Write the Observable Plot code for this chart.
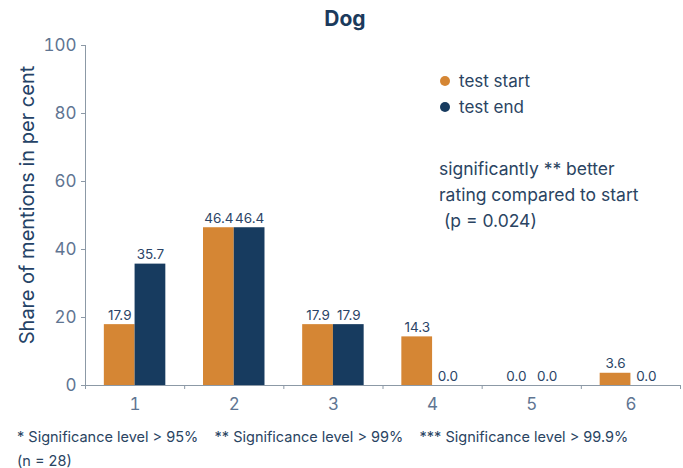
<!DOCTYPE html>
<html>
<head>
<meta charset="utf-8">
<script src="https://cdn.jsdelivr.net/npm/d3@7"></script>
<script src="https://cdn.jsdelivr.net/npm/@observablehq/plot@0.6"></script>
<style>
  html, body { margin: 0; padding: 0; background: #fff; }
  body { font-family: Inter, "Noto Sans", sans-serif; }
  #wrap { position: relative; width: 683px; height: 468px; overflow: hidden; }
  #title { position: absolute; left: 0; top: 6px; width: 690px; text-align: center; font-size: 21px; font-weight: 700; color: #1b3a5c; }
  #chart { position: absolute; left: 0; top: 36px; }
  #ylabel { position: absolute; left: 27px; top: 205px; transform: translate(-50%, -50%) rotate(-90deg); white-space: nowrap; font-size: 20px; color: #244266; }
  .leg { position: absolute; left: 440px; font-size: 17px; color: #2a4462; display: flex; align-items: center; }
  .dot { width: 10px; height: 10px; border-radius: 50%; margin-right: 9px; }
  #note { position: absolute; left: 439px; top: 156px; font-size: 17.5px; line-height: 26px; color: #2a4462; white-space: pre; }
  .foot { position: absolute; left: 17px; font-size: 14.5px; line-height: 12px; color: #2a4462; white-space: pre; }
</style>
</head>
<body>
<div id="wrap">
  <div id="title">Dog</div>
  <div id="chart"></div>
  <div id="ylabel">Share of mentions in per cent</div>
  <div id="legend"></div>
  <div id="note">significantly ** better
rating compared to start
 (p = 0.024)</div>
  <div class="foot" style="top:431px">* Significance level &gt; 95%    ** Significance level &gt; 99%    *** Significance level &gt; 99.9%</div>
  <div class="foot" style="top:455px">(n = 28)</div>
</div>
<script>
const categories = [1, 2, 3, 4, 5, 6];
const series = ["test start", "test end"];
const testStart = [17.9, 46.4, 17.9, 14.3, 0.0, 3.6];
const testEnd = [35.7, 46.4, 17.9, 0.0, 0.0, 0.0];
const yTicks = [0, 20, 40, 60, 80, 100];
const colors = ["#D58634", "#173B5F"];

const barWidth = 0.31;
const data = [];
categories.forEach((c, i) => {
  data.push({cat: c, series: series[0], value: testStart[i], x1: c - barWidth, x2: c});
  data.push({cat: c, series: series[1], value: testEnd[i], x1: c, x2: c + barWidth});
});
const boundaries = [categories[0] - 0.5, ...categories.map(c => c + 0.5)];

const axisGrey = "#8c99a6";
const tickText = "#5f7592";
const labelText = "#2b4466";

const chart = Plot.plot({
  width: 683,
  height: 384,
  marginLeft: 85,
  marginRight: 3,
  marginTop: 9,
  marginBottom: 35,
  style: {fontFamily: "Inter, 'Noto Sans', sans-serif", background: "#fff"},
  x: {type: "linear", domain: [boundaries[0], boundaries[boundaries.length - 1]]},
  y: {domain: [0, 100]},
  color: {domain: series, range: colors},
  marks: [
    Plot.rectY(data, {x1: "x1", x2: "x2", y: "value", fill: "series"}),
    Plot.text(data, {
      x: d => (d.x1 + d.x2) / 2, y: "value", text: d => d.value.toFixed(1),
      lineAnchor: "bottom", dy: -5, fontSize: 13.5, fill: labelText
    }),
    Plot.frame({anchor: "left", stroke: axisGrey}),
    Plot.frame({anchor: "bottom", stroke: axisGrey}),
    Plot.axisY({ticks: yTicks, tickSize: 4, tickPadding: 5, fontSize: 17, color: axisGrey, fill: tickText, label: null}),
    Plot.axisX({ticks: boundaries, tickSize: 4, tickFormat: () => "", color: axisGrey, label: null}),
    Plot.axisX({ticks: categories, tickFormat: d => String(d), tickSize: 0, tickPadding: 12, fontSize: 17, fill: tickText, label: null})
  ]
});
document.getElementById("chart").appendChild(chart);

const legend = document.getElementById("legend");
series.forEach((s, i) => {
  const row = document.createElement("div");
  row.className = "leg";
  row.style.top = (71 + i * 26) + "px";
  const dot = document.createElement("span");
  dot.className = "dot";
  dot.style.background = colors[i];
  const lab = document.createElement("span");
  lab.textContent = s;
  row.appendChild(dot);
  row.appendChild(lab);
  legend.appendChild(row);
});
</script>
</body>
</html>
